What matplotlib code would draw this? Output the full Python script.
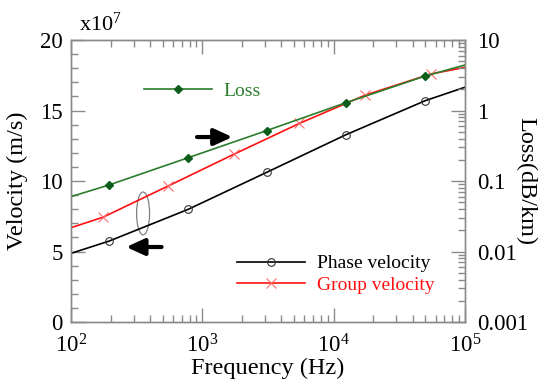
import numpy as np
import matplotlib
matplotlib.use("Agg")
import matplotlib.pyplot as plt
from matplotlib.ticker import FixedLocator, FuncFormatter, LogLocator, MultipleLocator, NullFormatter
from matplotlib.patches import Ellipse

plt.rcParams['font.family'] = ['Liberation Serif', 'DejaVu Serif']
plt.rcParams['mathtext.fontset'] = 'custom'
plt.rcParams['mathtext.rm'] = 'Liberation Serif'
plt.rcParams['mathtext.it'] = 'Liberation Serif:italic'

# phase velocity (x1e7 m/s)
f_phase = [100, 195, 780, 3100, 12400, 50000, 100000]
v_phase = [4.87, 5.74, 7.99, 10.62, 13.28, 15.70, 16.65]

# group velocity (x1e7 m/s)
f_group = [100, 175, 550, 1750, 5500, 17500, 55000, 100000]
v_group = [6.69, 7.43, 9.65, 11.91, 14.09, 16.10, 17.59, 18.06]

# loss (dB/km)
f_loss = [100, 195, 780, 3100, 12400, 50000, 100000]
loss = [0.060, 0.088, 0.214, 0.52, 1.29, 3.09, 4.42]

GRAY = '#8a8a8a'
GREEN = '#2b7d2b'
DKGREEN = '#0d5e1a'

fig = plt.figure(figsize=(5.38, 3.85), dpi=100)
ax = fig.add_axes([0.132, 0.1636, 0.732, 0.7324])
ax2 = ax.twinx()

ph, = ax.plot(f_phase, v_phase, color='black', lw=1.2, marker='o', mfc='none', mec='#333333',
              ms=5.5, mew=0.8, markevery=[1, 2, 3, 4, 5], label='Phase velocity')
gr, = ax.plot(f_group, v_group, color='#ff1010', lw=1.2, marker='x', mec='#ff6a6a',
              ms=6.5, mew=0.8, markevery=[1, 2, 3, 4, 5, 6], label='Group velocity')
ls, = ax2.plot(f_loss, loss, color=GREEN, lw=1.2, marker='D', mfc=DKGREEN, mec=DKGREEN,
               ms=4.5, markevery=[1, 2, 3, 4, 5], label='Loss')

ax.set_xscale('log')
ax.set_xlim(1e2, 1e5)
ax.set_ylim(0, 20)
ax2.set_yscale('log')
ax2.set_ylim(1e-3, 10)

ax.yaxis.set_major_locator(MultipleLocator(5))
ax.yaxis.set_minor_locator(MultipleLocator(1))
ax.xaxis.set_major_locator(LogLocator(base=10, numticks=10))
ax.xaxis.set_minor_locator(LogLocator(base=10, subs=np.arange(2, 10), numticks=20))
ax.xaxis.set_minor_formatter(NullFormatter())
ax2.yaxis.set_major_locator(FixedLocator([1e-3, 1e-2, 1e-1, 1, 10]))
ax2.yaxis.set_minor_locator(LogLocator(base=10, subs=np.arange(2, 10), numticks=20))
ax2.yaxis.set_major_formatter(FuncFormatter(lambda v, p: '%g' % v))
ax2.yaxis.set_minor_formatter(NullFormatter())

for a in (ax, ax2):
    for s in a.spines.values():
        s.set_color(GRAY)
        s.set_linewidth(1.0)
ax.tick_params(axis='both', which='both', direction='in', color=GRAY, labelsize=16.5, width=1.0)
ax.tick_params(axis='x', which='both', top=True)
ax.tick_params(axis='y', which='both', right=False)
ax.tick_params(which='major', length=10)
ax.tick_params(which='minor', length=5)
ax.tick_params(axis='x', pad=9)
ax.tick_params(axis='y', pad=6)
ax2.tick_params(axis='y', which='both', direction='in', color=GRAY, labelsize=16.5, width=1.0, pad=9)
ax2.tick_params(which='major', length=10)
ax2.tick_params(which='minor', length=5)

ax.set_xlabel('Frequency (Hz)', fontsize=17.5, labelpad=0)
ax.set_ylabel('Velocity (m/s)', fontsize=17.5, va='center')
ax.yaxis.set_label_coords(-0.137, 0.5)
ax2.set_ylabel('Loss(dB/km)', fontsize=17.5, rotation=270, va='center')
ax2.yaxis.set_label_coords(1.155, 0.5)
ax.text(0.02, 1.015, 'x10$^7$', transform=ax.transAxes, fontsize=16, ha='left', va='bottom')

leg1 = ax2.legend(handles=[ls], loc='upper left', bbox_to_anchor=(0.16, 0.885), frameon=False,
                  fontsize=14, handlelength=3.5, numpoints=1, labelcolor='linecolor',
                  borderpad=0, handletextpad=0.6)
leg2 = ax2.legend(handles=[ph, gr], loc='lower left', bbox_to_anchor=(0.397, 0.065), frameon=False,
                  fontsize=14, handlelength=3.5, numpoints=1, labelcolor='linecolor',
                  borderpad=0, handletextpad=0.6, labelspacing=0.2)
ax2.add_artist(leg1)

# annotation arrows and ellipse
arrow = dict(arrowstyle='-|>,head_length=1.1,head_width=0.5', lw=3.0, color='black', shrinkA=0, shrinkB=0)
ax.annotate('', xy=(0.41, 0.656), xytext=(0.32, 0.656), xycoords='axes fraction', arrowprops=arrow)
ax.annotate('', xy=(0.14, 0.266), xytext=(0.23, 0.266), xycoords='axes fraction', arrowprops=arrow)
ax.add_patch(Ellipse((0.183, 0.385), 0.033, 0.152, transform=ax.transAxes, fill=False,
                     edgecolor='#808080', lw=0.9))

fig.savefig('out.png', dpi=100)
